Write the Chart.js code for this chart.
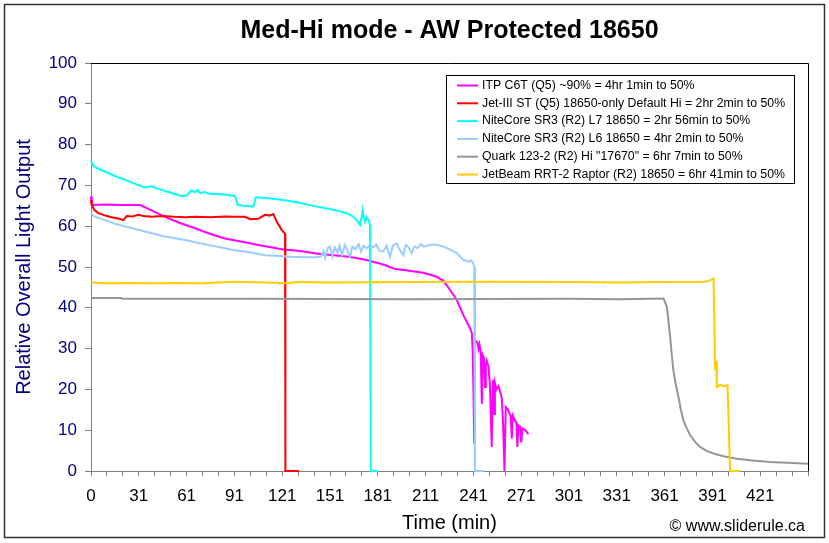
<!DOCTYPE html>
<html>
<head>
<meta charset="utf-8">
<script src="https://cdn.jsdelivr.net/npm/chart.js@4.4.0/dist/chart.umd.min.js"></script>
<style>
  html, body { margin: 0; padding: 0; background: #fff; }
</style>
</head>
<body>
<canvas id="chart" width="829" height="543"></canvas>
<script>
const FONT = "'Liberation Sans', Arial, sans-serif";

const chartTitle = 'Med-Hi mode - AW Protected 18650';
const xTitle = 'Time (min)';
const yTitle = 'Relative Overall Light Output';
const xTickLabels = ['0', '31', '61', '91', '121', '151', '181', '211', '241', '271', '301', '331', '361', '391', '421'];

const seriesLabels = [
    'ITP C6T (Q5) ~90% = 4hr 1min to 50%',
    'Jet-III ST (Q5) 18650-only Default Hi = 2hr 2min to 50%',
    'NiteCore SR3 (R2) L7 18650 = 2hr 56min to 50%',
    'NiteCore SR3 (R2) L6 18650 = 4hr 2min to 50%',
    'Quark 123-2 (R2) Hi "17670" = 6hr 7min to 50%',
    'JetBeam RRT-2 Raptor (R2) 18650 = 6hr 41min to 50%',
];
const seriesColors = ['#ff00ff', '#ff0000', '#00ffff', '#99ccff', '#969696', '#ffcc00'];

// ITP C6T
const itpX = [0, 0.5, 10, 20, 30.8, 38, 46.5, 55, 65.3, 75, 84.1, 99.8, 105, 120.7, 131.2, 143.8, 152.1, 162, 173.1, 180, 185.6, 190, 194, 208.6, 217, 221.2, 225.5, 229.6, 233.7, 237.9, 239, 239.6, 240, 240.4, 240.6, 241.1, 242.5, 243.2, 243.8, 244.6, 245.3, 245.9, 246.6, 247.3, 247.8, 248.4, 249.5, 250.4, 251.5, 252.2, 253.0, 253.5, 254.5, 255.7, 256.8, 257.8, 258.6, 259.5, 260.3, 261.5, 262.6, 263.4, 264.1, 264.7, 266, 267, 267.6, 268.3, 269.3, 270, 270.8, 272, 273, 274.5];
const itpY = [67.3, 65.2, 65.3, 65.2, 65.2, 63.9, 62.3, 60.9, 59.5, 58.1, 57.0, 55.8, 55.4, 54.3, 53.9, 53.2, 52.9, 52.5, 51.7, 51.0, 50.3, 49.6, 49.4, 48.6, 47.6, 46.6, 44.3, 41.9, 38.2, 35.0, 33.8, 29, 20.2, 10, 6.7, 32.1, 31.5, 29.9, 31.0, 29.2, 16.5, 28.4, 27.8, 20.6, 26.0, 27.0, 25.5, 21.0, 5.9, 22.3, 14.0, 21.6, 20.0, 20.8, 19.4, 17.8, 12, 0, 15.7, 15.2, 14.1, 13.5, 8.0, 13.6, 12.4, 11.8, 5.9, 11.2, 10.9, 7.0, 10.4, 10.2, 9.8, 9.0];

// Jet-III ST
const jetX = [0, 0.5, 2, 4.6, 9, 13, 17, 20.3, 22.4, 26, 29.7, 33, 38.1, 45, 52, 59, 66, 75, 84, 90, 96.7, 100, 105, 107.5, 109.2, 112, 114.4, 116.6, 118, 119.7, 121.8, 121.9, 122.1, 130.6];
const jetY = [66.4, 65.2, 64.0, 63.2, 62.6, 62.2, 61.9, 61.5, 62.5, 62.4, 62.8, 62.5, 62.3, 62.5, 62.3, 62.2, 62.3, 62.2, 62.4, 62.3, 62.3, 61.7, 61.8, 62.4, 62.8, 62.6, 63.0, 61.1, 60.2, 59.1, 58.1, 29, 0, 0];

// NiteCore SR3 L7
const l7X = [0, 1, 4, 8.8, 15, 22, 28, 33.9, 38, 42, 50, 56.9, 60, 63, 65, 67, 68.4, 71, 75, 80, 85, 90.4, 92, 96, 101.9, 103.4, 110, 120.7, 130, 141.7, 150, 160.5, 164, 166.8, 168.9, 169.8, 170.5, 171.2, 172, 173, 174.1, 175.1, 175.6, 180.3];
const l7Y = [76.1, 75.0, 74.2, 73.4, 72.3, 71.3, 70.3, 69.5, 69.8, 69.2, 68.2, 67.4, 67.5, 68.8, 68.3, 68.9, 68.1, 68.4, 67.9, 67.9, 67.7, 67.4, 65.2, 65.0, 64.8, 67.1, 66.9, 66.4, 65.8, 64.8, 64.2, 63.2, 62.5, 61.5, 60.3, 62.2, 64.0, 62.0, 61.1, 62.2, 61.5, 60.3, 0, 0];

// NiteCore SR3 L6
const l6X = [0, 2, 8.8, 15, 22, 33.9, 45, 59, 68.4, 75, 84.1, 90, 99.8, 109.2, 118.6, 125, 134.3, 141.7, 144.5, 146, 147, 148.5, 150, 151.5, 153, 154.8, 156, 157.5, 159.4, 160.8, 162.6, 164, 166, 168, 169.5, 171, 173, 175.1, 177, 179, 181, 183.5, 185.5, 187.7, 189.5, 191.9, 193.5, 196, 197.5, 199, 201.3, 203, 205, 207, 209, 212.8, 216, 221.2, 225, 229.6, 233.7, 236.9, 238.5, 240, 240.5, 241, 246.7];
const l6Y = [63.2, 62.4, 61.5, 60.6, 59.9, 58.7, 57.6, 56.6, 55.8, 55.3, 54.6, 54.1, 53.6, 52.9, 52.7, 52.5, 52.4, 52.4, 52.6, 53.9, 52.3, 54.6, 55.0, 52.6, 54.8, 53.6, 55.2, 52.9, 55.4, 54.2, 52.5, 55.0, 54.4, 55.6, 53.8, 55.2, 54.6, 55.4, 54.8, 55.5, 54.0, 53.8, 55.2, 52.5, 55.3, 55.8, 54.4, 52.9, 55.4, 55.0, 53.4, 55.1, 54.6, 55.6, 55.0, 55.4, 55.5, 55.0, 54.3, 53.4, 51.7, 51.3, 51.6, 50.9, 50.0, 0, 0];

// Quark 123-2
const quarkX = [0, 19, 19.5, 100, 200, 300, 332, 359.3, 361.4, 362.5, 363.5, 364.5, 365.5, 367, 368.7, 370.2, 371.8, 374, 376, 379, 382.3, 386, 390.7, 397, 405.3, 415, 426.2, 437, 450];
const quarkY = [42.4, 42.4, 42.2, 42.2, 42.1, 42.2, 42.1, 42.3, 40.3, 36.5, 32.9, 28.5, 24.7, 21.2, 18.2, 15.0, 12.4, 10.4, 8.8, 7.2, 5.9, 5.0, 4.3, 3.6, 3.0, 2.6, 2.2, 2.0, 1.8];

// JetBeam RRT-2
const rrtX = [0, 10, 25, 40, 55, 70, 90, 110, 122, 130, 150, 200, 250, 300, 332, 360, 384.4, 388, 390.7, 391.2, 391.7, 392.3, 392.8, 395, 397, 399.5, 401.1, 407.4];
const rrtY = [46.2, 46.0, 46.1, 46.0, 46.1, 46.0, 46.4, 46.2, 46.0, 46.3, 46.2, 46.3, 46.4, 46.3, 46.2, 46.3, 46.4, 46.6, 47.2, 38, 24.7, 27, 20.6, 21.1, 20.8, 21.0, 0, 0];

const seriesX = [itpX, jetX, l7X, l6X, quarkX, rrtX];
const seriesY = [itpY, jetY, l7Y, l6Y, quarkY, rrtY];

const toPoints = (xs, ys) => xs.map((x, i) => ({ x: x, y: ys[i] }));

const datasets = seriesLabels.map((label, i) => ({
    label: label,
    data: toPoints(seriesX[i], seriesY[i]),
    borderColor: seriesColors[i],
    backgroundColor: seriesColors[i],
    borderWidth: 2,
    pointRadius: 0,
    tension: 0,
    fill: false,
    clip: 4,
    order: seriesLabels.length - i, // later series on top, like the original
}));

// frame, legend box and footer note
const framePlugin = {
    id: 'frame',
    beforeDraw(chart) {
        const ctx = chart.ctx;
        ctx.save();
        ctx.fillStyle = '#fff';
        ctx.fillRect(0, 0, chart.width, chart.height);
        ctx.restore();
    },
    afterDraw(chart) {
        const { ctx, chartArea: a } = chart;
        ctx.save();

        // top and right edge of the plot area
        ctx.strokeStyle = '#000';
        ctx.lineWidth = 1;
        ctx.beginPath();
        ctx.moveTo(a.left, Math.round(a.top) + 0.5);
        ctx.lineTo(Math.round(a.right) + 0.5, Math.round(a.top) + 0.5);
        ctx.lineTo(Math.round(a.right) + 0.5, a.bottom);
        ctx.stroke();

        // legend
        const lx = 446, ly = 75, lw = 348, lh = 108;
        ctx.fillStyle = '#fff';
        ctx.fillRect(lx, ly, lw, lh);
        ctx.strokeStyle = '#000';
        ctx.strokeRect(lx + 0.5, ly + 0.5, lw, lh);
        ctx.font = '12.3px ' + FONT;
        ctx.textBaseline = 'middle';
        ctx.textAlign = 'left';
        chart.data.datasets.forEach((ds, i) => {
            const y = ly + 10.5 + i * 17.8;
            ctx.strokeStyle = ds.borderColor;
            ctx.lineWidth = 2;
            ctx.beginPath();
            ctx.moveTo(lx + 11, y);
            ctx.lineTo(lx + 32, y);
            ctx.stroke();
            ctx.fillStyle = '#000';
            ctx.fillText(ds.label, lx + 36, y);
        });

        // footer note
        ctx.font = '16px ' + FONT;
        ctx.textAlign = 'right';
        ctx.fillStyle = '#000';
        ctx.fillText('\u00a9 www.sliderule.ca', 805, 527);

        // outer border
        ctx.strokeStyle = '#333';
        ctx.lineWidth = 1.5;
        ctx.strokeRect(4.5, 4.5, 820, 533);
        ctx.restore();
    },
};

const config = {
    type: 'line',
    data: { datasets: datasets },
    options: {
        responsive: false,
        animation: false,
        events: [],
        layout: { padding: { top: 0, right: 21, bottom: 0, left: 0 } },
        plugins: {
            legend: { display: false },
            tooltip: { enabled: false },
            title: {
                display: true,
                text: chartTitle,
                fullSize: false,
                color: '#000',
                font: { family: FONT, size: 25, weight: 'bold' },
                padding: { top: 16, bottom: 17 },
            },
        },
        scales: {
            x: {
                type: 'linear',
                min: 0,
                max: 450,
                ticks: {
                    stepSize: 10,
                    autoSkip: false,
                    maxRotation: 0,
                    color: '#000',
                    font: { family: FONT, size: 17 },
                    padding: 10,
                    callback: (v) => {
                        const n = Math.round(v);
                        return n % 30 === 0 ? (xTickLabels[n / 30] || '') : '';
                    },
                },
                grid: { drawOnChartArea: false, tickLength: 5, color: '#808080' },
                border: { color: '#808080' },
                title: {
                    display: true,
                    text: xTitle,
                    color: '#000',
                    font: { family: FONT, size: 20 },
                    padding: { top: 0, bottom: 8 },
                },
                afterFit: (s) => { s.height = 72; },
            },
            y: {
                min: 0,
                max: 100,
                ticks: {
                    stepSize: 10,
                    color: '#000080',
                    font: { family: FONT, size: 17 },
                    padding: 8,
                },
                grid: { drawOnChartArea: false, tickLength: 6, color: '#808080' },
                border: { color: '#808080' },
                title: {
                    display: true,
                    text: yTitle,
                    color: '#000080',
                    font: { family: FONT, size: 20 },
                    padding: { top: 12, bottom: 0 },
                },
                afterFit: (s) => { s.width = 91; },
            },
        },
    },
    plugins: [framePlugin],
};

document.addEventListener('DOMContentLoaded', () => {
    const $chart = document.getElementById('chart');
    new Chart($chart, config);
});
</script>
</body>
</html>
